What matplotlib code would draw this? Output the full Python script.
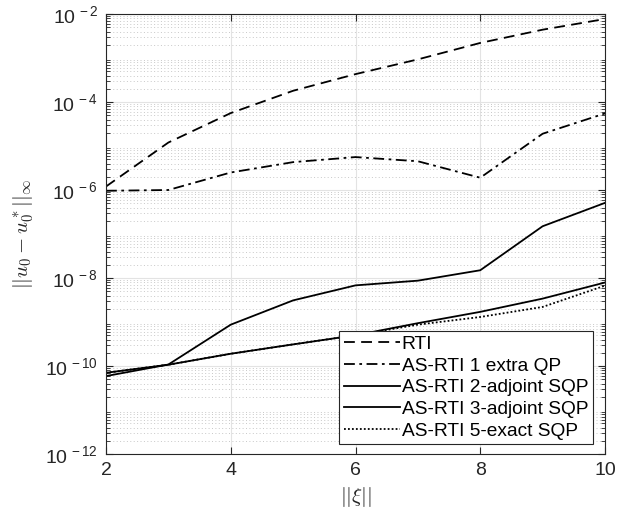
import matplotlib
matplotlib.use("Agg")
import matplotlib.pyplot as plt
from matplotlib.ticker import LogLocator, FixedLocator, NullFormatter

plt.rcParams['font.family'] = ['Liberation Sans', 'DejaVu Sans']
plt.rcParams['mathtext.fontset'] = 'custom'
plt.rcParams['mathtext.rm'] = 'Liberation Sans'
plt.rcParams['mathtext.it'] = 'Liberation Sans:italic'

x = [2, 3, 4, 5, 6, 7, 8, 9, 10]
rti = [1.2e-6, 1.2e-5, 5.6e-5, 1.8e-4, 4.3e-4, 9.3e-4, 2.2e-3, 4.4e-3, 7.7e-3]
as_qp = [9.6e-7, 1.0e-6, 2.5e-6, 4.3e-6, 5.6e-6, 4.5e-6, 1.9e-6, 1.9e-5, 5.5e-5]
as_2adj = [5.9e-11, 1.08e-10, 8.7e-10, 3.1e-9, 6.8e-9, 8.7e-9, 1.5e-8, 1.5e-7, 5.1e-7]
as_3adj = [7.0e-11, 1.07e-10, 1.9e-10, 3.1e-10, 5.0e-10, 9.4e-10, 1.7e-9, 3.4e-9, 7.9e-9]
as_5ex = [7.0e-11, 1.07e-10, 1.9e-10, 3.1e-10, 5.0e-10, 8.7e-10, 1.3e-9, 2.2e-9, 6.7e-9]
labels = ['RTI', 'AS-RTI 1 extra QP', 'AS-RTI 2-adjoint SQP',
          'AS-RTI 3-adjoint SQP', 'AS-RTI 5-exact SQP']
xticks = [2, 4, 6, 8, 10]
yticks = [1e-12, 1e-10, 1e-8, 1e-6, 1e-4, 1e-2]
ytick_labels = [r'$10^{\,-12}$', r'$10^{\,-10}$', r'$10^{\,-8}$', r'$10^{\,-6}$',
                r'$10^{\,-4}$', r'$10^{\,-2}$']

fig = plt.figure(figsize=(6.29, 5.18), dpi=100)
ax = fig.add_axes([106/629, (518-454)/518, 499/629, 440/518])

lw = 1.3
ax.plot(x, rti, color='black', lw=lw, linestyle=(0, (6, 3.5)), label=labels[0])
ax.plot(x, as_qp, color='black', lw=lw, linestyle=(0, (6, 2.5, 1.5, 2.5)), label=labels[1])
ax.plot(x, as_2adj, color='black', lw=lw, linestyle='-', label=labels[2])
ax.plot(x, as_3adj, color='black', lw=lw, linestyle='-', label=labels[3])
ax.plot(x, as_5ex, color='black', lw=lw, linestyle=(0, (1, 1.2)), label=labels[4])

ax.set_yscale('log')
ax.set_xlim(2, 10)
ax.set_ylim(1e-12, 1e-2)
ax.set_xticks(xticks)
ax.set_xticklabels([str(t) for t in xticks])
ax.yaxis.set_major_locator(FixedLocator(yticks))
ax.set_yticklabels(ytick_labels)
ax.yaxis.set_minor_locator(LogLocator(base=10, subs=range(2, 10), numticks=100))
ax.yaxis.set_minor_formatter(NullFormatter())

ax.grid(True, which='major', color='#e3e3e3', lw=0.8, linestyle='-')
ax.grid(True, which='minor', axis='y', color='#c8c8c8', lw=0.7, linestyle=(0, (1, 2.5)))
ax.set_axisbelow(True)

ax.tick_params(which='both', direction='in', top=True, right=True, labelsize=14,
               color='#262626', labelcolor='#262626')
ax.tick_params(which='major', length=5, width=0.8, pad=6)
ax.tick_params(which='minor', length=3, width=0.6)
for s in ax.spines.values():
    s.set_color('#262626')
    s.set_linewidth(0.8)

ax.set_xlabel(r'$||\xi||$', fontsize=15, color='#262626', math_fontfamily='cm')
ax.set_ylabel(r'$||u_0 - u_0^*||_\infty$', fontsize=15, color='#262626',
              math_fontfamily='cm', labelpad=6)

leg = ax.legend(loc='lower right', bbox_to_anchor=(0.976, 0.022), fontsize=13.8,
                frameon=True, fancybox=False, framealpha=1, edgecolor='#262626',
                borderpad=0.25, labelspacing=0.22, handlelength=2.9,
                handletextpad=0.1, borderaxespad=0)
leg.get_frame().set_linewidth(0.8)

fig.savefig('out.png', dpi=100)
